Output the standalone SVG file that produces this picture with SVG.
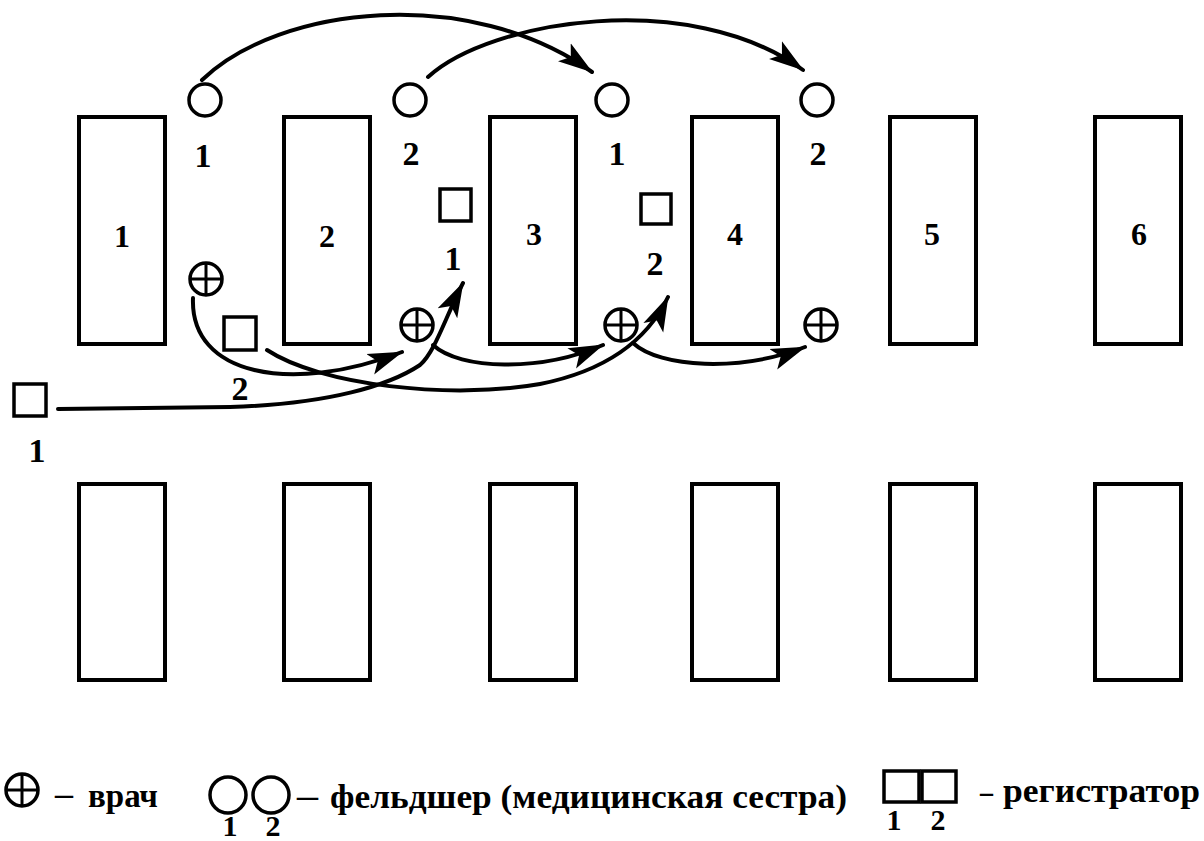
<svg xmlns="http://www.w3.org/2000/svg" width="1204" height="841" viewBox="0 0 1204 841">
<style>
.room{fill:#fff;stroke:#000;stroke-width:4}
.sym{fill:#fff;stroke:#000;stroke-width:3.5}
.cross{stroke:#000;stroke-width:3;fill:none}
.con{fill:none;stroke:#000;stroke-width:4;stroke-linecap:round}
.t{font-family:"Liberation Serif","DejaVu Serif",serif;font-weight:bold;fill:#000}
.rn{font-size:32px;text-anchor:middle}
.lb{font-size:34px;text-anchor:middle}
.ls{font-size:30px;text-anchor:middle}
.lg{font-size:34px}
</style>
<defs>
<marker id="ah" markerUnits="userSpaceOnUse" markerWidth="36" markerHeight="24" viewBox="0 0 36 24" refX="34" refY="12" orient="auto">
<path d="M0,1 L35,12 L0,23 L8,12 Z" fill="#000"/>
</marker>
<g id="doc"><circle r="16" class="sym"/><path d="M-16,0 H16 M0,-16 V16" class="cross"/></g>
</defs>
<rect width="1204" height="841" fill="#fff"/>

<g id="rooms-top">
<g id="room1"><rect class="room" x="79" y="117" width="86" height="227"/><text class="t rn" x="122" y="247">1</text></g>
<g id="room2"><rect class="room" x="284" y="117" width="86" height="227"/><text class="t rn" x="327" y="247">2</text></g>
<g id="room3"><rect class="room" x="490" y="117" width="86" height="227"/><text class="t rn" x="534" y="245">3</text></g>
<g id="room4"><rect class="room" x="692" y="117" width="86" height="227"/><text class="t rn" x="735" y="245">4</text></g>
<g id="room5"><rect class="room" x="890" y="117" width="86" height="227"/><text class="t rn" x="932" y="245">5</text></g>
<g id="room6"><rect class="room" x="1095" y="117" width="86" height="227"/><text class="t rn" x="1139" y="245">6</text></g>
</g>

<g id="rooms-bottom">
<g id="room7"><rect class="room" x="79" y="484" width="86" height="196"/></g>
<g id="room8"><rect class="room" x="284" y="484" width="86" height="196"/></g>
<g id="room9"><rect class="room" x="490" y="484" width="86" height="196"/></g>
<g id="room10"><rect class="room" x="692" y="484" width="86" height="196"/></g>
<g id="room11"><rect class="room" x="890" y="484" width="86" height="196"/></g>
<g id="room12"><rect class="room" x="1095" y="484" width="86" height="196"/></g>
</g>

<g id="connectors">
<path class="con" d="M202,80 C280,5 470,-15 592,72" marker-end="url(#ah)"/>
<path class="con" d="M428,77 C490,20 690,-12 803,70" marker-end="url(#ah)"/>
<path class="con" d="M193,298 C190,375 290,395 402,352" marker-end="url(#ah)"/>
<path class="con" d="M433,345 C460,370 540,372 603,345" marker-end="url(#ah)"/>
<path class="con" d="M633,343 C660,368 740,372 805,347" marker-end="url(#ah)"/>
<path class="con" d="M58,409 L230,407 C330,404 390,385 420,365 C435,352 445,318 463,283" marker-end="url(#ah)"/>
<path class="con" d="M267,350 C320,385 450,400 540,384 C600,372 645,345 668,297" marker-end="url(#ah)"/>
</g>

<g id="nurse1a"><circle class="sym" cx="205" cy="100" r="16"/><text class="t lb" x="203" y="167">1</text></g>
<g id="nurse2a"><circle class="sym" cx="410" cy="100" r="16"/><text class="t lb" x="411" y="165">2</text></g>
<g id="nurse1b"><circle class="sym" cx="612" cy="100" r="16"/><text class="t lb" x="617" y="165">1</text></g>
<g id="nurse2b"><circle class="sym" cx="817" cy="100" r="16"/><text class="t lb" x="818" y="165">2</text></g>

<g id="doctor1"><use href="#doc" x="206" y="279"/></g>
<g id="doctor2"><use href="#doc" x="417" y="325"/></g>
<g id="doctor3"><use href="#doc" x="621" y="325"/></g>
<g id="doctor4"><use href="#doc" x="821" y="325"/></g>

<g id="reg1a"><rect class="sym" x="14" y="384" width="32" height="32"/><text class="t lb" x="37" y="462">1</text></g>
<g id="reg2a"><rect class="sym" x="224" y="317" width="32" height="33"/><text class="t lb" x="240" y="400">2</text></g>
<g id="reg1b"><rect class="sym" x="440" y="189" width="31" height="32"/><text class="t lb" x="453" y="270">1</text></g>
<g id="reg2b"><rect class="sym" x="641" y="194" width="30" height="30"/><text class="t lb" x="655" y="275">2</text></g>

<g id="legend">
<use href="#doc" x="22" y="790"/>
<text class="t lg" x="55" y="805" textLength="18" lengthAdjust="spacingAndGlyphs">–</text>
<text class="t lg" x="88" y="807" textLength="70" lengthAdjust="spacingAndGlyphs">врач</text>
<circle class="sym" cx="228" cy="795" r="18"/>
<circle class="sym" cx="271" cy="795" r="18"/>
<text class="t ls" x="230" y="836">1</text>
<text class="t ls" x="273" y="836">2</text>
<text class="t lg" x="297" y="807" textLength="21" lengthAdjust="spacingAndGlyphs">–</text>
<text class="t lg" x="330" y="808" textLength="517" lengthAdjust="spacingAndGlyphs">фельдшер (медицинская сестра)</text>
<rect class="sym" x="884" y="771" width="35" height="31"/>
<rect class="sym" x="922" y="771" width="34" height="31"/>
<text class="t ls" x="894" y="830">1</text>
<text class="t ls" x="938" y="830">2</text>
<text class="t lg" x="980" y="803" textLength="13" lengthAdjust="spacingAndGlyphs">–</text>
<text class="t lg" x="1003" y="802" textLength="197" lengthAdjust="spacingAndGlyphs">регистратор</text>
</g>
</svg>
